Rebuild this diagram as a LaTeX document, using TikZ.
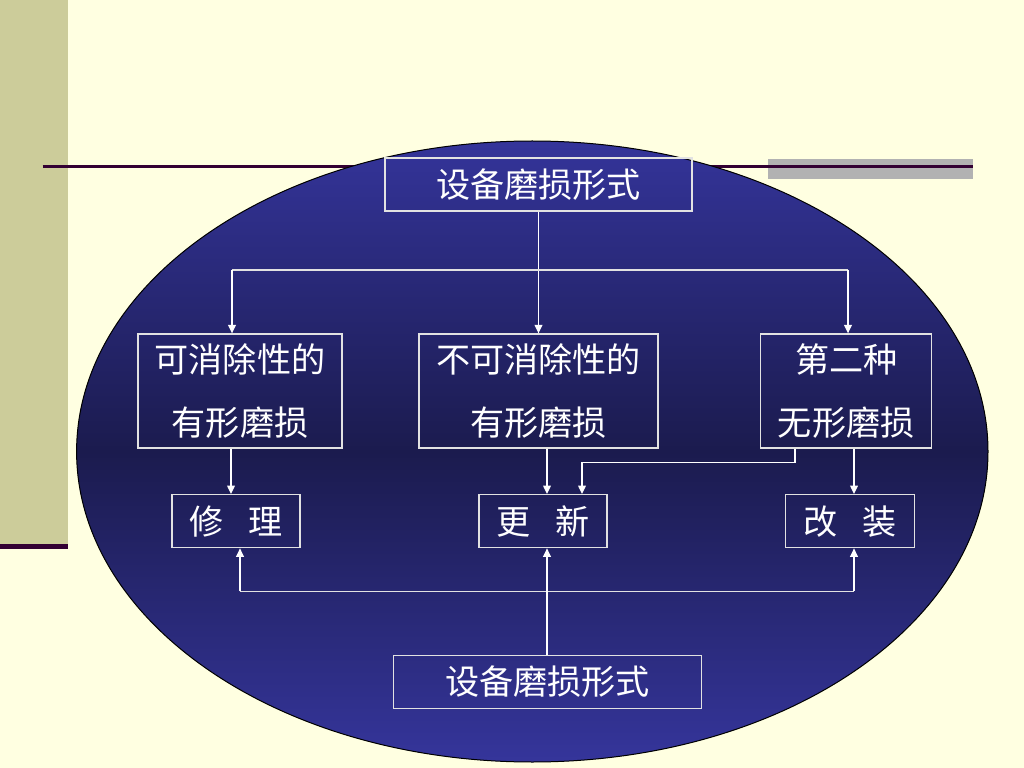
\documentclass[tikz,border=0pt]{standalone}
\usepackage{fontspec}
\newfontfamily\cjk{Noto Sans CJK SC}
\usetikzlibrary{arrows.meta,calc}
\newlength\px
\setlength\px{0.703125pt}
\definecolor{bgcream}{HTML}{FFFFE1}
\definecolor{barolive}{HTML}{CCCC9A}
\definecolor{darkplum}{HTML}{330033}
\definecolor{graybar}{HTML}{B2B2B2}
\definecolor{elltop}{HTML}{34349A}
\definecolor{ellmid}{HTML}{1B1B4E}
\definecolor{ellbot}{HTML}{35359B}
\definecolor{boxline}{HTML}{E2E2E2}
\tikzset{
  boxnode/.style={draw=boxline, line width=1.3\px, inner sep=0pt, text=white,
    font=\cjk\fontsize{24pt}{44pt}\selectfont, align=center},
  conn/.style={draw=boxline, line width=1.3\px},
  arr/.style={conn, -{Triangle[length=6pt,width=5.5pt]}, white},
}
\begin{document}
\begin{tikzpicture}[x=\px,y=-\px]
\useasboundingbox (0,0) rectangle (1024,768);
\fill[bgcream] (0,0) rectangle (1024,768);
% left bar
\fill[barolive] (0,0) rectangle (68,543.5);
\draw[darkplum, line width=5\px] (0,546) -- (68,546);
% gray bar and top line
\fill[graybar] (767.7,158.7) rectangle (972.7,178.7);
\draw[darkplum, line width=2.5\px] (42.7,166.7) -- (972.7,166.7);
% ellipse
\path[draw=black, line width=1\px, top color=elltop, bottom color=ellbot, middle color=ellmid]
  (532.3,451.5) ellipse [x radius=455.7, y radius=310.5];
% nodes
\node[boxnode, minimum width=307\px, minimum height=53\px] (top) at (538.5,184.5) {设备磨损形式};
\node[boxnode, minimum width=204\px, minimum height=114\px] (b1) at (240,391) {可消除性的\\有形磨损};
\node[boxnode, minimum width=239\px, minimum height=114\px] (b2) at (538.5,391) {不可消除性的\\有形磨损};
\node[boxnode, minimum width=171\px, minimum height=114\px] (b3) at (846.2,391) {第二种\\无形磨损};
\node[boxnode, minimum width=128\px, minimum height=53\px] (xl) at (236,521.2) {修\hspace{0.75em}理};
\node[boxnode, minimum width=128\px, minimum height=53\px] (gx) at (543,521.2) {更\hspace{0.75em}新};
\node[boxnode, minimum width=128.6\px, minimum height=53\px] (gz) at (850,521.2) {改\hspace{0.75em}装};
\node[boxnode, minimum width=308.4\px, minimum height=53.4\px] (bot) at (547.5,682) {设备磨损形式};
% helper coordinates
\coordinate (jl) at (232,270);
\coordinate (jr) at (848,270);
\coordinate (a1) at (231,0);
\coordinate (a2) at (547,0);
\coordinate (a3) at (854,0);
\coordinate (a5) at (795,0);
\coordinate (e1) at (582,462.7);
\coordinate (hl) at (240,591.3);
\coordinate (hr) at (854,591.3);
% connectors
\draw[arr] (top.south) -- (b2.north);
\draw[conn] (jl) -- (jr);
\draw[arr] (jl) -- (jl |- b1.north);
\draw[arr] (jr) -- (jr |- b3.north);
\draw[arr] (b1.south -| a1) -- (xl.north -| a1);
\draw[arr] (b2.south -| a2) -- (gx.north -| a2);
\draw[arr] (b3.south -| a3) -- (gz.north -| a3);
\draw[arr] (b3.south -| a5) |- (e1) -- (gx.north -| e1);
\draw[conn] (hl) -- (hr);
\draw[arr] (hl) -- (hl |- xl.south);
\draw[arr] (hr) -- (hr |- gz.south);
\draw[arr] (bot.north -| a2) -- (gx.south -| a2);
\end{tikzpicture}
\end{document}
